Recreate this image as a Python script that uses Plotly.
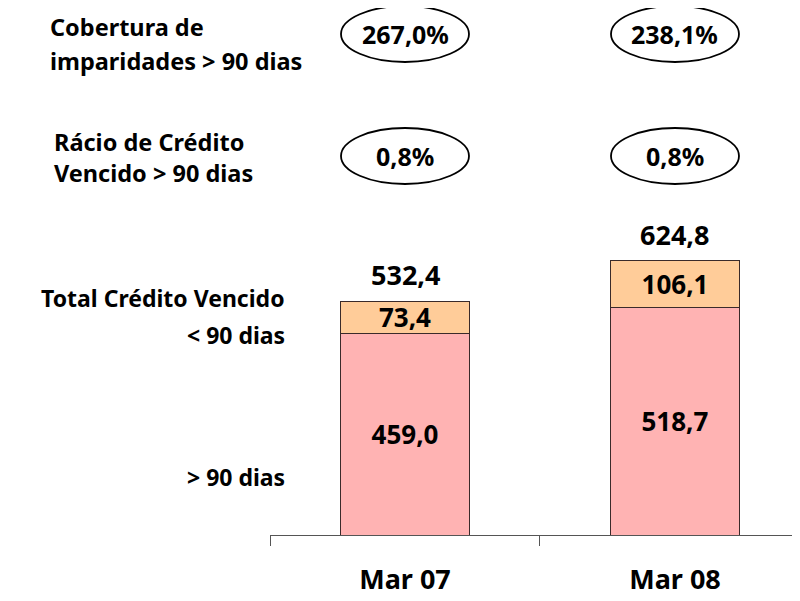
import plotly.graph_objects as go

categories = ["Mar 07", "Mar 08"]
over_90 = [459.0, 518.7]      # > 90 dias
under_90 = [73.4, 106.1]      # < 90 dias
totals = [532.4, 624.8]
coverage = [267.0, 238.1]     # Cobertura de imparidades > 90 dias (%)
ratio = [0.8, 0.8]            # Rácio de Crédito Vencido > 90 dias (%)

FONT = "Noto Sans"
OFF = 8                 # browser body margin
PLOT_L, PLOT_B = 270, 535   # plot area edges in screen pixels
PLOT_W = 800 - PLOT_L
PLOT_H = PLOT_B - OFF


def fmt(v, suffix=""):
    return f"{v:.1f}".replace(".", ",") + suffix


def px(sx):
    return (sx - PLOT_L) / PLOT_W


def py(sy):
    return (PLOT_B - sy) / PLOT_H


bold = dict(family=FONT, color="black", weight="bold")

fig = go.Figure()
for vals, name, col in ((over_90, "> 90 dias", "#ffb3b3"), (under_90, "< 90 dias", "#ffcc99")):
    fig.add_trace(go.Bar(
        x=categories, y=vals, name=name,
        marker=dict(color=col, line=dict(color="#3a2a2a", width=1)),
        text=[fmt(v) for v in vals], textposition="inside", insidetextanchor="middle",
        constraintext="none", textfont=dict(bold, size=26),
        width=0.48,
    ))

annotations = []
shapes = []
for i, (c, t) in enumerate(zip(categories, totals)):
    annotations.append(dict(x=c, y=t, xref="x", yref="y", text=fmt(t), showarrow=False,
                            yanchor="bottom", yshift=6, font=dict(bold, size=27)))
    for vals, cy in ((coverage, 34), (ratio, 156)):
        shapes.append(dict(type="circle", xref="x", yref="paper",
                           x0=i - 64 / PLOT_W * 1.963, x1=i + 64 / PLOT_W * 1.963,
                           y0=py(cy + 28), y1=py(cy - 28),
                           line=dict(color="black", width=1.8)))
        annotations.append(dict(x=i, y=py(cy), xref="x", yref="paper", text=fmt(vals[i], "%"),
                                showarrow=False, yanchor="middle", font=dict(bold, size=25)))

left_lines = [
    ("Cobertura de", 48, 27),
    ("imparidades > 90 dias", 48, 61),
    ("Rácio de Crédito", 52, 142),
    ("Vencido > 90 dias", 52, 173),
]
for txt, x, y in left_lines:
    annotations.append(dict(x=px(x), y=py(y), xref="paper", yref="paper", text=txt,
                            showarrow=False, xanchor="left", yanchor="middle",
                            font=dict(bold, size=23.5)))
right_labels = [("Total Crédito Vencido", 298), ("< 90 dias", 335), ("> 90 dias", 477)]
for txt, y in right_labels:
    annotations.append(dict(x=px(287), y=py(y), xref="paper", yref="paper", text=txt,
                            showarrow=False, xanchor="right", yanchor="middle",
                            font=dict(bold, size=23)))

fig.update_layout(
    width=800 - OFF, height=601 - OFF, barmode="stack", showlegend=False,
    plot_bgcolor="white", paper_bgcolor="white",
    margin=dict(l=PLOT_L - OFF, r=0, t=0, b=601 - PLOT_B),
    shapes=shapes, annotations=annotations,
    xaxis=dict(type="category", range=[-0.5, 1.463], tickson="boundaries", ticks="outside",
               ticklen=10, tickcolor="#555", showline=True, linecolor="#555", linewidth=1,
               tickfont=dict(bold, size=27), ticklabelstandoff=21,
               showgrid=False, zeroline=False, fixedrange=True),
    yaxis=dict(range=[0, PLOT_H / 0.4393], visible=False, showgrid=False, zeroline=False),
)

fig.write_html("out.html")
